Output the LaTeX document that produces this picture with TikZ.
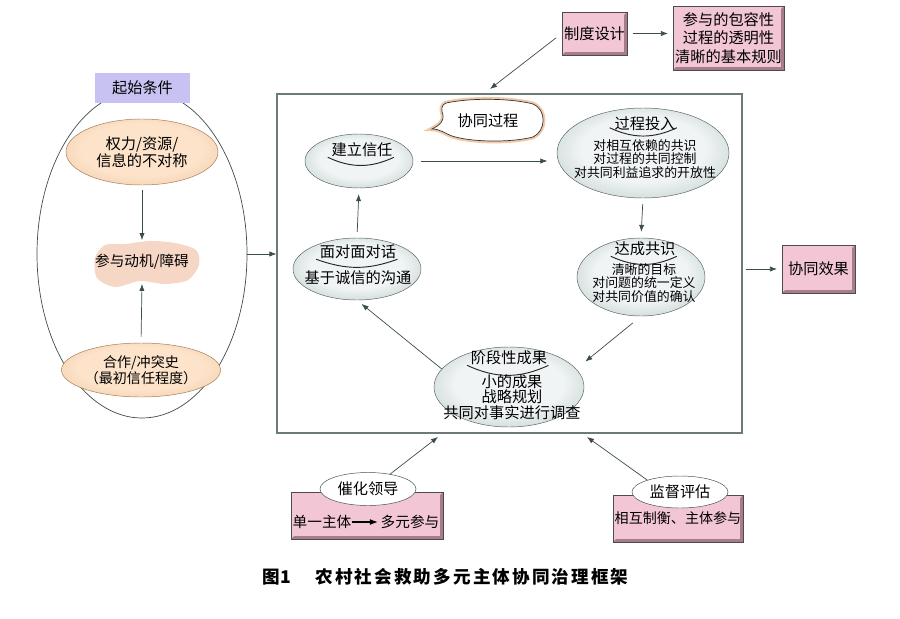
\documentclass[tikz,border=0pt]{standalone}
\usepackage{fontspec}
\setmainfont{Noto Sans CJK SC}
\usetikzlibrary{arrows.meta,shapes.geometric}
\definecolor{pinkbox}{HTML}{F2C6D5}
\definecolor{pinkdark}{HTML}{A77C8C}
\definecolor{lavender}{HTML}{C8C2F2}
\definecolor{orangeout}{HTML}{E9AD78}
\definecolor{orangein}{HTML}{FCE3CA}
\definecolor{procout}{HTML}{8DA4A3}
\definecolor{procin}{HTML}{F0F4F4}
\definecolor{linecol}{HTML}{3C4C4C}
\definecolor{framecol}{HTML}{6B7B7B}
\definecolor{blobcol}{HTML}{F6D7C6}
\definecolor{glowcol}{HTML}{F2C9A8}
\pgfdeclareradialshading{procshade}{\pgfpoint{0bp}{3bp}}{color(0bp)=(procin); color(18bp)=(procin); color(50bp)=(procout)}
\pgfdeclareradialshading{orangeshade}{\pgfpoint{0bp}{3bp}}{color(0bp)=(orangein); color(20bp)=(orangein); color(50bp)=(orangeout)}
\begin{document}
\begin{tikzpicture}[x=0.03cm,y=-0.03cm,
  arr/.style={-{Latex[length=6pt,width=4.5pt]},draw=linecol,line width=0.6pt},
  oval/.style={ellipse,inner sep=0pt},
  orangeoval/.style={oval,draw=orangeout!70!black,line width=0.4pt,shading=orangeshade},
  procoval/.style={oval,draw=procout!60!black,line width=0.4pt,shading=procshade},
  title/.style={inner sep=0pt,font=\fontsize{13}{13}\selectfont},
  body/.style={inner sep=0pt,align=center,font=\fontsize{11}{11.5}\selectfont},
  swoosh/.style={draw=black!85,line width=0.8pt},
  bevelbox/.style={draw=black!70,fill=pinkbox,line width=0.6pt,inner sep=1pt,path picture={
    \fill[pinkdark] (path picture bounding box.south west) -- (path picture bounding box.south east)
      -- (path picture bounding box.north east) -- ([shift={(-2.5pt,-2.5pt)}]path picture bounding box.north east)
      -- ([shift={(-2.5pt,2.5pt)}]path picture bounding box.south east) -- ([shift={(2.5pt,2.5pt)}]path picture bounding box.south west) -- cycle;}},
  ]
  \useasboundingbox (0,0) rectangle (900,618);

  \node[draw=linecol,line width=0.6pt,ellipse,minimum width=6.3cm,minimum height=9.84cm,inner sep=0pt] (cond) at (142,254) {};
  \node[fill=lavender,minimum width=2.85cm,minimum height=0.9cm,font=\fontsize{13}{13}\selectfont] (start) at (142.5,88) {起始条件};
  \node[orangeoval,minimum width=4.56cm,minimum height=1.98cm,align=center,font=\fontsize{13}{14.5}\selectfont] (power) at (142,152) {权力/资源/\\信息的不对称};
  \fill[blobcol] plot[smooth cycle] coordinates {(95,258) (105,245) (125,244) (150,241) (175,243) (196,250) (199,265) (188,280) (165,284) (140,281) (115,287) (97,278)};
  \node[minimum width=3.3cm,minimum height=1.3cm,font=\fontsize{12.5}{12.5}\selectfont] (motive) at (142,262) {参与动机/障碍};
  \node[orangeoval,minimum width=3.54cm,minimum height=1.62cm,align=center,font=\fontsize{12}{13.5}\selectfont] (history) at (141,370) {合作/冲突史\\（最初信任程度）};
  \draw[arr,shorten <=4pt] (power.south) -- (motive.north);
  \draw[arr,shorten <=5pt] (history.north) -- (motive.south);

  \node[draw=framecol,line width=0.9pt,minimum width=13.95cm,minimum height=10.17cm,inner sep=0pt] (frame) at (509.5,263.5) {};
  \draw[arr] (cond.east) -- (cond.east -| frame.west);

  \path[preaction={draw=glowcol,line width=4pt},fill=white,draw=black!80,line width=0.6pt]
    (446,103) .. controls (475,97) and (515,99) .. (533,104) .. controls (547,110) and (546,131) .. (533,137)
    .. controls (510,143) and (470,142) .. (452,136) .. controls (444,133) and (440,129) .. (432,129)
    .. controls (440,125) and (444,121) .. (443,115) .. controls (441,110) and (441,105) .. (446,103) -- cycle;
  \node[title] (procT) at (488,121) {协同过程};

  \node[procoval,minimum width=3.24cm,minimum height=1.62cm] (trust) at (359,161) {};
  \node[title] (trustT) at (362,150) {建立信任};
  \draw[swoosh] ([xshift=-3pt]trustT.south west) to[bend right=25] ([xshift=1pt]trustT.south east);

  \node[procoval,minimum width=5.16cm,minimum height=2.7cm] (invest) at (643,153) {};
  \node[title] (investT) at (645,124) {过程投入};
  \draw[swoosh] ([xshift=-4pt,yshift=3pt]investT.south west) to[bend right=25] ([xshift=1pt,yshift=3pt]investT.south east);
  \node[body] (investB) at (645,159) {对相互依赖的共识\\对过程的共同控制\\对共同利益追求的开放性};

  \node[procoval,minimum width=3.84cm,minimum height=2.34cm] (consensus) at (641,277) {};
  \node[title] (consensusT) at (645,249) {达成共识};
  \draw[swoosh] ([xshift=-3pt]consensusT.south west) to[bend right=25] ([xshift=1pt]consensusT.south east);
  \node[body] (consensusB) at (644,283) {清晰的目标\\对问题的统一定义\\对共同价值的确认};

  \node[procoval,minimum width=4.5cm,minimum height=2.4cm] (outcome) at (509,387) {};
  \node[title] (outcomeT) at (509,358) {阶段性成果};
  \draw[swoosh] ([xshift=-3pt]outcomeT.south west) to[bend right=25] ([xshift=1pt]outcomeT.south east);
  \node[body,font=\fontsize{13}{13}\selectfont] (outcomeB) at (512,397) {小的成果\\战略规划\\共同对事实进行调查};

  \node[procoval,minimum width=3.84cm,minimum height=1.86cm] (dialog) at (357,269) {};
  \node[title] (dialogT) at (358,252) {面对面对话};
  \draw[swoosh] ([xshift=-3pt]dialogT.south west) to[bend right=20] ([xshift=1pt]dialogT.south east);
  \node[title] (dialogB) at (358,278) {基于诚信的沟通};

  \draw[arr,shorten <=7pt,shorten >=8pt] (trust.east) -- (trust.east -| invest.west);
  \draw[arr,shorten <=5pt,shorten >=5pt] (invest.south) -- (consensus.north);
  \draw[arr,shorten <=9pt,shorten >=10pt] (consensus.south) -- (outcome.15);
  \draw[arr,shorten >=5pt] (outcome.165) -- (dialog.south);
  \draw[arr,shorten <=5pt,shorten >=5pt] (dialog.north) -- (trust.south);

  \node[bevelbox,minimum width=1.95cm,minimum height=1.29cm,font=\fontsize{13}{13}\selectfont] (design) at (594.5,33.5) {制度设计};
  \node[bevelbox,minimum width=3.33cm,minimum height=1.92cm,align=center,font=\fontsize{13}{16}\selectfont] (rules) at (728.5,38) {参与的包容性\\过程的透明性\\清晰的基本规则};
  \coordinate (designIn) at (490,89);
  \draw[arr,shorten <=6pt] (design.west) -- (designIn);
  \draw[arr,shorten <=5pt,shorten >=4pt] (design.east) -- (design.east -| rules.west);

  \node[bevelbox,minimum width=2.19cm,minimum height=1.44cm,font=\fontsize{13}{13}\selectfont] (effect) at (818.5,269) {协同效果};
  \draw[arr,shorten <=3pt,shorten >=4pt] (effect.west -| frame.east) -- (effect.west);

  \node[bevelbox,minimum width=4.56cm,minimum height=1.41cm] (leadbox) at (367,515.5) {};
  \node[inner sep=0pt,font=\fontsize{12.5}{12.5}\selectfont] (single) at (322,522) {单一主体};
  \node[inner sep=0pt,font=\fontsize{12.5}{12.5}\selectfont] (multi) at (410,522) {多元参与};
  \draw[-{Latex[length=7pt,width=5pt]},line width=1.1pt,shorten >=2pt] (single) -- (multi);
  \node[draw=linecol,fill=white,oval,minimum width=2.88cm,minimum height=0.99cm,font=\fontsize{13}{13}\selectfont] (lead) at (368,489) {催化领导};
  \coordinate (leadIn) at (438,437);
  \draw[arr] (lead.34) -- (leadIn);

  \node[bevelbox,minimum width=3.9cm,minimum height=1.41cm,font=\fontsize{12}{12}\selectfont] (monitorbox) at (678,518.5) {\raisebox{-2pt}{相互制衡、主体参与}};
  \node[draw=linecol,fill=white,oval,minimum width=2.88cm,minimum height=0.96cm,font=\fontsize{13}{13}\selectfont] (monitor) at (680,492) {监督评估};
  \coordinate (monitorIn) at (587,437);
  \draw[arr] (monitor.160) -- (monitorIn);

  \node[inner sep=0pt,font=\fontsize{15}{15}\selectfont\bfseries] (fignum) at (277,577) {图1};
  \node[inner sep=0pt,font=\fontsize{15}{15}\selectfont\bfseries\addfontfeatures{LetterSpace=12}] (figtitle) at (472,577) {农村社会救助多元主体协同治理框架};
\end{tikzpicture}
\end{document}
